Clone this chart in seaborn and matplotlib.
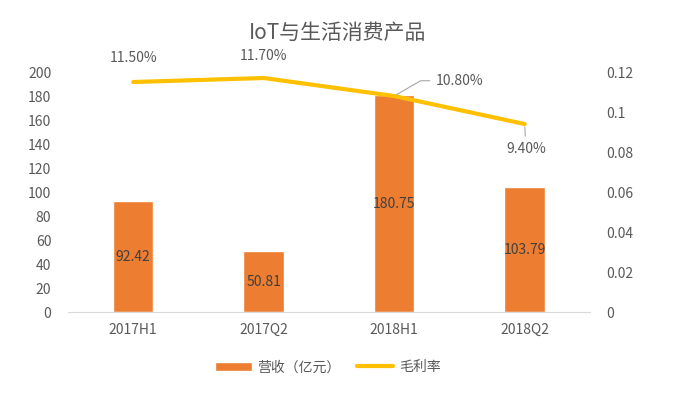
import matplotlib
matplotlib.use("Agg")
import matplotlib.pyplot as plt
import pandas as pd
import seaborn as sns

periods = ["2017H1", "2017Q2", "2018H1", "2018Q2"]
revenue = [92.42, 50.81, 180.75, 103.79]
margin = [0.115, 0.117, 0.108, 0.094]
margin_labels = ["11.50%", "11.70%", "10.80%", "9.40%"]

sns.set_style("white")
plt.rcParams['font.family'] = ['Noto Sans CJK SC', 'DejaVu Sans']

df = pd.DataFrame({"period": periods, "revenue": revenue, "margin": margin})

fig = plt.figure(figsize=(6.76, 3.95), dpi=100)
ax = fig.add_axes([0.1006, 0.21, 0.772, 0.6077])
sns.barplot(data=df, x="period", y="revenue", color="#ED7D31", width=0.31,
            saturation=1, ax=ax, label="营收（亿元）")
ax.set_ylim(0, 200)
ax.set_yticks(range(0, 201, 20))
ax.set_xlim(-0.5, 3.5)
for i, v in enumerate(revenue):
    ax.text(i, v / 2, f"{v:.2f}", ha="center", va="center", fontsize=10, color="#404040")

ax2 = ax.twinx()
sns.lineplot(data=df, x="period", y="margin", color="#FFC000", linewidth=3,
             ax=ax2, label="毛利率", sort=False)
ax2.set_ylim(0, 0.12)
ax2.set_yticks([0, 0.02, 0.04, 0.06, 0.08, 0.1, 0.12])
ax2.set_yticklabels(["0", "0.02", "0.04", "0.06", "0.08", "0.1", "0.12"])

lab_col = "#595959"
ax2.annotate(margin_labels[0], (0, margin[0]), xytext=(0, 12), textcoords="offset points",
             ha="center", va="bottom", fontsize=10, color=lab_col, annotation_clip=False)
ax2.annotate(margin_labels[1], (1, margin[1]), xytext=(0, 11), textcoords="offset points",
             ha="center", va="bottom", fontsize=10, color=lab_col, annotation_clip=False)
ax2.annotate(margin_labels[2], (2, margin[2]), xytext=(30, 11), textcoords="offset points",
             ha="left", va="center", fontsize=10, color=lab_col, annotation_clip=False,
             arrowprops=dict(arrowstyle="-", color="#A6A6A6", lw=0.8,
                             connectionstyle="angle,angleA=0,angleB=30,rad=0"))
ax2.annotate(margin_labels[3], (3, margin[3]), xytext=(1, -13), textcoords="offset points",
             ha="center", va="top", fontsize=10, color=lab_col, annotation_clip=False,
             arrowprops=dict(arrowstyle="-", color="#A6A6A6", lw=0.8))

for a in (ax, ax2):
    a.set_xlabel("")
    a.set_ylabel("")
    for s in ["top", "left", "right"]:
        a.spines[s].set_visible(False)
    a.spines["bottom"].set_color("#D9D9D9")
    a.tick_params(length=0, labelsize=10, colors="#595959")
ax2.spines["bottom"].set_visible(False)
ax.tick_params(axis="y", pad=12)
ax2.tick_params(axis="y", pad=12)
ax.tick_params(axis="x", pad=8)

h1, l1 = ax.get_legend_handles_labels()
h2, l2 = ax2.get_legend_handles_labels()
if ax2.get_legend():
    ax2.get_legend().remove()
if ax.get_legend():
    ax.get_legend().remove()
fig.legend(h1 + h2, l1 + l2, loc="center", bbox_to_anchor=(0.485, 0.07), ncol=2,
           frameon=False, fontsize=10, labelcolor="#595959", handlelength=2.6,
           handletextpad=0.4, columnspacing=1.2)

fig.suptitle("IoT与生活消费产品", y=0.945, fontsize=15, color="#595959")
fig.savefig("out.png", dpi=100)
